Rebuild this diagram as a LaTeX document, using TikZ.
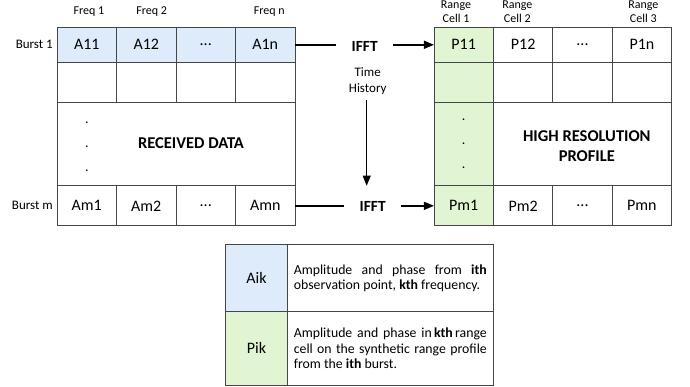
\documentclass[tikz,border=0pt]{standalone}
\usepackage{fontspec}
\setmainfont{Carlito}
\usetikzlibrary{arrows.meta,positioning}
\definecolor{cellblue}{RGB}{222,235,250}
\definecolor{cellgreen}{RGB}{226,245,210}
\definecolor{gridgray}{RGB}{70,70,70}
\hyphenpenalty=10000

\begin{document}
\begin{tikzpicture}[
    x=1pt, y=-1pt,
    cell/.style={
        rectangle, draw=gridgray, line width=0.8pt,
        inner sep=0pt, outer sep=0pt,
        minimum width=59.5pt, minimum height=#1,
        align=center, font=\fontsize{16}{18}\selectfont
    },
    cell/.default=40pt,
    lbl/.style={font=\fontsize{12}{14}\selectfont, align=center, inner sep=1pt},
    fft/.style={font=\fontsize{15.5}{18}\selectfont\bfseries, inner xsep=15pt, inner ysep=2pt},
    big/.style={font=\fontsize{16.5}{20.5}\selectfont\bfseries, align=center},
    dotcol/.style={font=\fontsize{14}{20}\selectfont, align=center},
    note/.style={
        rectangle, draw=gridgray, line width=0.8pt,
        inner sep=0pt, outer sep=0pt,
        minimum width=206pt, text width=193pt, align=justify,
        font=\fontsize{13.8}{15.3}\selectfont
    },
    arrow/.style={-{Triangle[length=10pt,width=8pt]}, line width=1.5pt}
]
\useasboundingbox (0,0) rectangle (690,387);

% Received data (left grid)
\node[cell=35pt, fill=cellblue] (a11) at (86.75,44.8) {A11};
\node[cell=35pt, fill=cellblue] (a12) at (146.25,44.8) {A12};
\node[cell=35pt, fill=cellblue] (a1d) at (205.75,44.8) {...};
\node[cell=35pt, fill=cellblue] (a1n) at (265.25,44.8) {A1n};
\node[cell] (b1) at (86.75,82.3) {};
\node[cell] (b2) at (146.25,82.3) {};
\node[cell] (b3) at (205.75,82.3) {};
\node[cell] (b4) at (265.25,82.3) {};
\node[cell=83.4pt, minimum width=238pt] (rdata) at (176,144) {};
\node[cell] (am1) at (86.75,205.85) {Am1};
\node[cell] (am2) at (146.25,205.85) {Am2};
\node[cell] (amd) at (205.75,205.85) {...};
\node[cell] (amn) at (265.25,205.85) {Amn};
\node[dotcol] (ldots) at (87,147) {.\\[4pt].\\[4pt].};
\node[big] (rtext) at (191,142.7) {RECEIVED DATA};

% High resolution profile (right grid)
\node[cell=35pt, fill=cellgreen] (p11) at (463.7,44.8) {P11};
\node[cell=35pt] (p12) at (523.1,44.8) {P12};
\node[cell=35pt] (p1d) at (582.5,44.8) {...};
\node[cell=35pt] (p1n) at (641.9,44.8) {P1n};
\node[cell, fill=cellgreen] (q1) at (463.7,82.3) {};
\node[cell] (q2) at (523.1,82.3) {};
\node[cell] (q3) at (582.5,82.3) {};
\node[cell] (q4) at (641.9,82.3) {};
\node[cell=83.4pt, fill=cellgreen] (pdots) at (463.7,144) {};
\node[cell=83.4pt, minimum width=178.2pt] (hres) at (582.5,144) {};
\node[cell, fill=cellgreen] (pm1) at (463.7,205.85) {Pm1};
\node[cell] (pm2) at (523.1,205.85) {Pm2};
\node[cell] (pmd) at (582.5,205.85) {...};
\node[cell] (pmn) at (641.9,205.85) {Pmn};
\node[dotcol] at (pdots) {.\\[4pt].\\[4pt].};
\node[big] (htext) at (586.8,146) {HIGH RESOLUTION\\PROFILE};

% Axis labels
\node[lbl] (f1) at (89,11.7) {Freq 1};
\node[lbl] (f2) at (151.7,11.7) {Freq 2};
\node[lbl] (fn) at (269.3,11.7) {Freq n};
\node[lbl, font=\fontsize{13}{14}\selectfont, anchor=east] (bst1) at (a11.west) {Burst 1\hspace{3pt}};
\node[lbl, font=\fontsize{13}{14}\selectfont, anchor=east] (bstm) at (am1.west) {Burst m\hspace{3pt}};
\node[lbl] (rc1) at (456,12) {Range\\Cell 1};
\node[lbl] (rc2) at (517.3,12) {Range\\Cell 2};
\node[lbl] (rc3) at (643.3,12) {Range\\Cell 3};

% IFFT flow
\node[fft] (fft1) at (364.7,46.5) {IFFT};
\node[fft] (fftm) at (372.7,206.5) {IFFT};
\node[font=\fontsize{13}{16.5}\selectfont, align=center, inner sep=5pt] (hist) at (367.7,81) {Time\\History};

\draw[line width=1.5pt] (a1n.east) -- (fft1.west |- a1n.east);
\draw[arrow] (fft1.east |- p11.west) -- (p11.west);
\draw[line width=1.5pt] (amn.east) -- (fftm.west |- amn.east);
\draw[arrow] (fftm.east |- pm1.west) -- (pm1.west);
\draw[arrow, line width=1pt] (hist.south -| 366.7,0) -- (366.7,185.7);

% Legend
\node[cell=67.4pt, minimum width=61.6pt, fill=cellblue] (aik) at (256.5,278) {Aik};
\node[cell=73.3pt, minimum width=61.6pt, fill=cellgreen] (pik) at (256.5,348.35) {Pik};
\node[note, minimum height=67.4pt, anchor=west] (aikt) at (aik.east) {Amplitude and phase from \textbf{ith}\linebreak observation point, \textbf{kth} frequency.};
\node[note, minimum height=73.3pt, anchor=west] (pikt) at (pik.east) {Amplitude and phase in\,\textbf{kth}\,range\linebreak cell on the synthetic range profile\linebreak from the \textbf{ith} burst.};

\end{tikzpicture}
\end{document}
